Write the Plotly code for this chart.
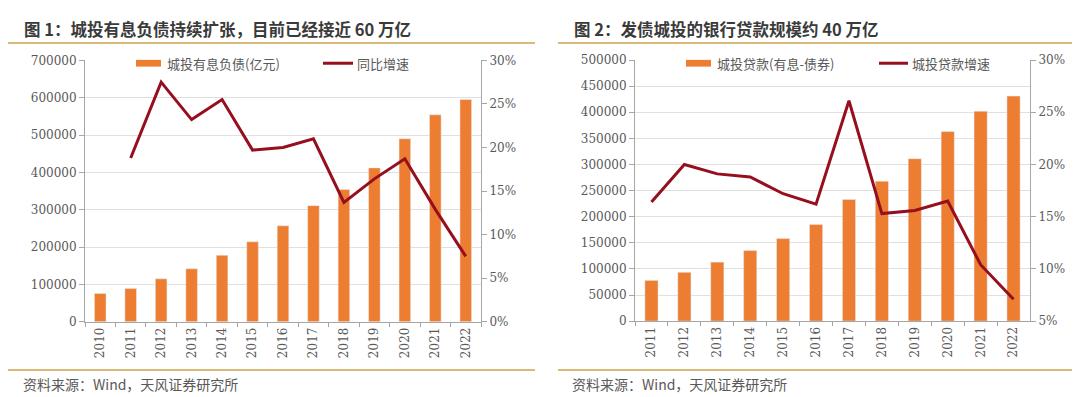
import plotly.graph_objects as go

# ---------------- data ----------------
years1 = ["2010", "2011", "2012", "2013", "2014", "2015", "2016",
          "2017", "2018", "2019", "2020", "2021", "2022"]
debt1 = [76000, 89000, 115000, 142000, 178000, 214000, 257000,
         311000, 354000, 412000, 490000, 554000, 595000]
growth1 = [None, 18.8, 27.5, 23.2, 25.5, 19.7, 20.0,
           21.0, 13.7, 16.4, 18.7, 12.9, 7.5]

years2 = ["2011", "2012", "2013", "2014", "2015", "2016",
          "2017", "2018", "2019", "2020", "2021", "2022"]
loans2 = [78000, 93500, 113000, 135000, 158000, 185000,
          233000, 268000, 311000, 363000, 402000, 431000]
growth2 = [16.4, 20.0, 19.1, 18.8, 17.2, 16.2,
           26.1, 15.3, 15.6, 16.5, 10.4, 7.1]

title1 = "图 1：城投有息负债持续扩张，目前已经接近 60 万亿"
title2 = "图 2：发债城投的银行贷款规模约 40 万亿"
legend1 = ["城投有息负债(亿元)", "同比增速"]
legend2 = ["城投贷款(有息-债券)", "城投贷款增速"]
source = "资料来源：Wind，天风证券研究所"

# ---------------- style ----------------
W, H = 1080, 397
BAR = "#ED7D31"
LINE = "#960F1E"
GOLD = "#D9BA78"
GRID = "#E0E0E0"
AX = "#A6A6A6"
TXT = "#595959"
TICKFONT = dict(family="DejaVu Serif", size=12, color=TXT)
CJK = "Noto Sans CJK SC"


def px(x):
    return x / W


def py(y):
    return 1 - y / H


fig = go.Figure()

fig.add_trace(go.Bar(x=years1, y=debt1, marker_color=BAR, width=0.38,
                     xaxis="x", yaxis="y", showlegend=False))
fig.add_trace(go.Scatter(x=years1, y=growth1, mode="lines",
                         line=dict(color=LINE, width=3),
                         xaxis="x", yaxis="y2", showlegend=False))
fig.add_trace(go.Bar(x=years2, y=loans2, marker_color=BAR, width=0.4,
                     xaxis="x3", yaxis="y3", showlegend=False))
fig.add_trace(go.Scatter(x=years2, y=growth2, mode="lines",
                         line=dict(color=LINE, width=3),
                         xaxis="x3", yaxis="y4", showlegend=False))

xcommon = dict(type="category", showline=True, linecolor=AX, linewidth=1,
               ticks="outside", ticklen=4, tickcolor=AX, tickson="boundaries",
               tickangle=-90, tickfont=TICKFONT, showgrid=False,
               fixedrange=True)
ycommon = dict(showline=True, linecolor=AX, linewidth=1, ticks="outside",
               ticklen=5, tickcolor=AX, tickfont=TICKFONT, zeroline=False)

d1y = [py(318), py(47)]
d2y = [py(317.3), py(46.7)]

fig.update_layout(
    width=W, height=H,
    margin=dict(l=0, r=0, t=0, b=0),
    paper_bgcolor="white", plot_bgcolor="white",
    xaxis=dict(domain=[px(77), px(473)], anchor="y", **xcommon),
    yaxis=dict(domain=d1y, anchor="x", range=[0, 700000], dtick=100000,
               showgrid=True, gridcolor=GRID, gridwidth=1,
               tickformat="d", **ycommon),
    yaxis2=dict(overlaying="y", side="right", anchor="x", range=[0, 30],
                dtick=5, ticksuffix="%", showgrid=False, **ycommon),
    xaxis3=dict(domain=[px(627), px(1022)], anchor="y3", **xcommon),
    yaxis3=dict(domain=d2y, anchor="x3", range=[0, 500000], dtick=50000,
                showgrid=True, gridcolor=GRID, gridwidth=1,
                tickformat="d", **ycommon),
    yaxis4=dict(overlaying="y3", side="right", anchor="x3", range=[5, 30],
                dtick=5, ticksuffix="%", showgrid=False, **ycommon),
)

shapes = []
# gold rules
for x0, x1 in [(0, 527), (550, 1080)]:
    for y in (29, 368):
        shapes.append(dict(type="line", xref="paper", yref="paper",
                           x0=px(x0), x1=px(x1), y0=py(y), y1=py(y),
                           line=dict(color=GOLD, width=2)))
# white patches behind legends (hide top gridline)
shapes.append(dict(type="rect", xref="paper", yref="paper", layer="between",
                   x0=px(78), x1=px(440), y0=py(56), y1=py(42),
                   fillcolor="white", line=dict(width=0)))
shapes.append(dict(type="rect", xref="paper", yref="paper", layer="between",
                   x0=px(628), x1=px(1021), y0=py(56), y1=py(42),
                   fillcolor="white", line=dict(width=0)))
# legend swatches
LY = 50
for x0, x1 in [(128, 153), (678, 703)]:
    shapes.append(dict(type="rect", xref="paper", yref="paper",
                       x0=px(x0), x1=px(x1), y0=py(LY + 3.5), y1=py(LY - 3.5),
                       fillcolor=BAR, line=dict(width=0)))
for x0, x1 in [(315, 345), (871, 900)]:
    shapes.append(dict(type="line", xref="paper", yref="paper",
                       x0=px(x0), x1=px(x1), y0=py(LY), y1=py(LY),
                       line=dict(color=LINE, width=3)))
fig.update_layout(shapes=shapes)

ann = []
for x, t in [(14, title1), (564, title2)]:
    ann.append(dict(x=px(x), y=py(14), xref="paper", yref="paper",
                    xanchor="left", yanchor="middle", showarrow=False,
                    text="<b>" + t + "</b>",
                    font=dict(family=CJK, size=16.5, color="#3A3A3A")))
for x, t in [(157, legend1[0]), (347, legend1[1]),
             (707, legend2[0]), (902, legend2[1])]:
    ann.append(dict(x=px(x), y=py(LY), xref="paper", yref="paper",
                    xanchor="left", yanchor="middle", showarrow=False,
                    text=t, font=dict(family=CJK, size=13, color=TXT)))
for x in (13, 562):
    ann.append(dict(x=px(x), y=py(382), xref="paper", yref="paper",
                    xanchor="left", yanchor="middle", showarrow=False,
                    text=source, font=dict(family=CJK, size=14, color=TXT)))
fig.update_layout(annotations=ann)

fig.write_html("out.html")
